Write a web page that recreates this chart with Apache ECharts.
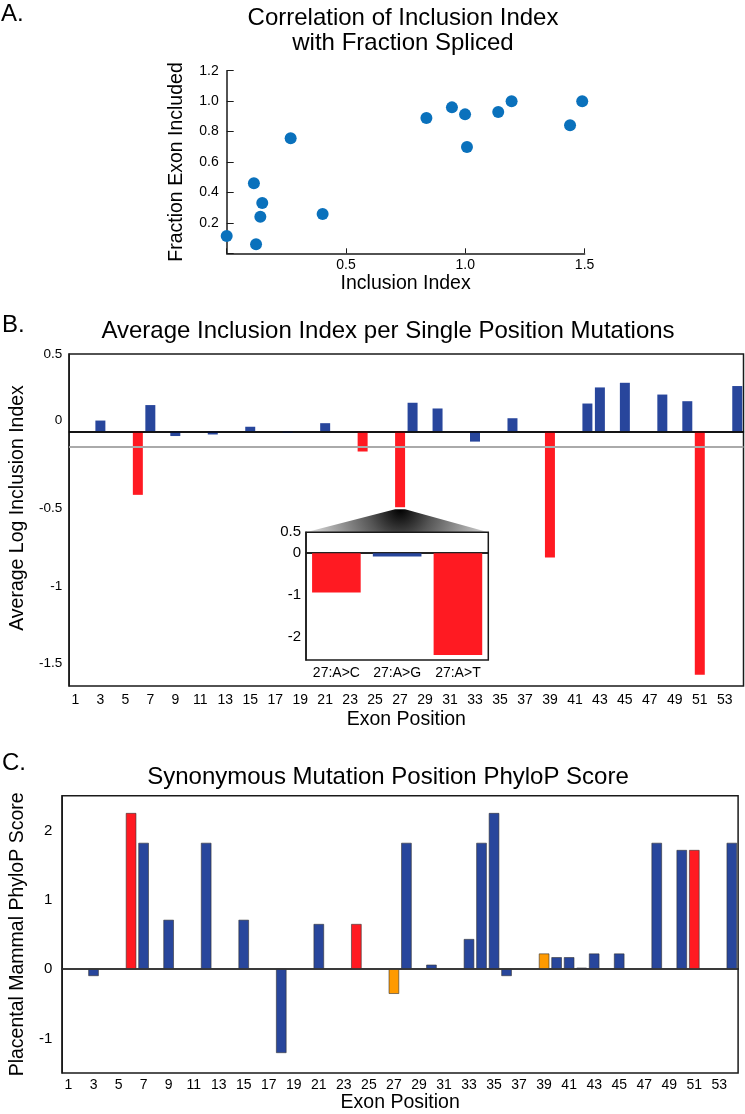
<!DOCTYPE html>
<html><head><meta charset="utf-8">
<script src="https://cdn.jsdelivr.net/npm/echarts@6/dist/echarts.min.js"></script>
<style>html,body{margin:0;padding:0;background:#fff}#c{width:745px;height:1114px}</style>
</head><body><div id="c"></div>
<script>
// ---------- Panel A data ----------
const scatterX = [0.00, 0.123, 0.114, 0.149, 0.141, 0.268, 0.402, 0.837, 0.944, 0.999, 1.007, 1.138, 1.194, 1.439, 1.490];
const scatterY = [0.114, 0.059, 0.460, 0.330, 0.240, 0.756, 0.258, 0.889, 0.959, 0.913, 0.698, 0.928, 1.000, 0.841, 1.000];

// ---------- Shared categories ----------
const exonPositions = ['1','2','3','4','5','6','7','8','9','10','11','12','13','14','15','16','17','18','19','20',
  '21','22','23','24','25','26','27','28','29','30','31','32','33','34','35','36','37','38','39','40',
  '41','42','43','44','45','46','47','48','49','50','51','52','53','54'];

// ---------- Panel B data ----------
const avgPos = [3, 6, 7, 9, 12, 15, 18, 21, 24, 27, 28, 30, 33, 36, 39, 42, 43, 45, 48, 50, 51, 54];
const avgVal = [0.07, -0.41, 0.17, -0.03, -0.02, 0.03, -0.01, 0.053, -0.13, -0.49, 0.185, 0.148, -0.066, 0.085, -0.815, 0.18, 0.284, 0.314, 0.238, 0.195, -1.573, 0.293];
const avgRed = [6, 24, 27, 39, 51];
const avgThreshold = -0.1;
const avgYTicks = [0.5, 0, -0.5, -1, -1.5];

// ---------- Inset data ----------
const insetLabels = ['27:A>C', '27:A>G', '27:A>T'];
const insetVal = [-0.94, -0.08, -2.43];
const insetRed = ['27:A>C', '27:A>T'];
const insetYTicks = [0.5, 0, -0.5, -1, -1.5, -2];
const insetYLabels = [0.5, 0, -1, -2];

// ---------- Panel C data ----------
const phyloPos = [3, 6, 7, 9, 12, 15, 18, 21, 24, 27, 28, 30, 33, 34, 35, 36, 39, 40, 41, 42, 43, 45, 48, 50, 51, 54];
const phyloVal = [-0.1, 2.25, 1.82, 0.71, 1.82, 0.71, -1.21, 0.65, 0.65, -0.357, 1.82, 0.063, 0.433, 1.82, 2.25, -0.1, 0.224, 0.171, 0.171, 0.02, 0.224, 0.224, 1.82, 1.717, 1.717, 1.82];
const phyloRed = [6, 24, 51];
const phyloOrange = [27, 39];

// ---------- styles ----------
const FONT = "'Liberation Sans', Arial, Helvetica, sans-serif";
const BLUE = '#28469c', RED = '#ff1a22', ORANGE = '#ff9a00', DOT = '#0a71bc', INK = '#1a1a1a';
const GA = {left: 226.7, top: 70.7, width: 357.9, height: 182.6};
const GB = {left: 50.5, top: 354, width: 693, height: 332};
const GI = {left: 306, top: 532.3, width: 182.3, height: 127.7};
const GC = {left: 44.1, top: 795.7, width: 694, height: 280};

function barData(pos, val, colorFor) {
  return exonPositions.map(p => {
    const i = pos.indexOf(Number(p));
    if (i < 0) return '-';
    return {value: val[i], itemStyle: {color: colorFor(Number(p))}};
  });
}
const bData = barData(avgPos, avgVal, p => avgRed.includes(p) ? RED : BLUE);
const cData = barData(phyloPos, phyloVal, p => phyloRed.includes(p) ? RED : (phyloOrange.includes(p) ? ORANGE : BLUE));
const iData = insetLabels.map((l, i) => ({value: insetVal[i], itemStyle: {color: insetRed.includes(l) ? RED : BLUE}}));

const axLine = {show: true, lineStyle: {color: INK, width: 1.5}};
const lbl = (o) => Object.assign({color: '#000', fontFamily: FONT, fontSize: 14}, o);
const nameStyle = {color: '#000', fontFamily: FONT, fontSize: 19.5};

const chart = echarts.init(document.getElementById('c'), null, {renderer: 'canvas'});
const option = {
  animation: false,
  backgroundColor: '#fff',
  grid: [
    Object.assign({show: false}, GA),
    Object.assign({show: true, borderColor: INK, borderWidth: 1.5, backgroundColor: 'transparent'}, GB),
    Object.assign({show: true, borderColor: INK, borderWidth: 1.5, backgroundColor: '#fff', z: 5}, GI),
    Object.assign({show: true, borderColor: INK, borderWidth: 1.5, backgroundColor: 'transparent'}, GC)
  ],
  xAxis: [
    {type: 'value', gridIndex: 0, min: 0, max: 1.5, interval: 0.5,
      axisLine: axLine, axisTick: {inside: true, length: 5, lineStyle: {color: INK}},
      splitLine: {show: false},
      axisLabel: lbl({margin: 5, formatter: v => v === 0 ? '' : v.toFixed(1)}),
      name: 'Inclusion Index', nameLocation: 'middle', nameGap: 20, nameTextStyle: nameStyle},
    {type: 'category', gridIndex: 1, data: exonPositions,
      axisLine: axLine, axisTick: {inside: true, length: 6, interval: 0, lineStyle: {color: INK}},
      axisLabel: lbl({interval: 1, margin: 7}),
      name: 'Exon Position', nameLocation: 'middle', nameGap: 24, nameTextStyle: nameStyle},
    {type: 'category', gridIndex: 2, data: insetLabels,
      axisLine: axLine, axisTick: {inside: true, length: 5, interval: 0, lineStyle: {color: INK}},
      axisLabel: lbl({interval: 0, margin: 6}), z: 6},
    {type: 'category', gridIndex: 3, data: exonPositions,
      axisLine: axLine, axisTick: {inside: true, length: 6, interval: 0, lineStyle: {color: INK}},
      axisLabel: lbl({interval: 1, margin: 5}),
      name: 'Exon Position', nameLocation: 'middle', nameGap: 17, nameTextStyle: nameStyle}
  ],
  yAxis: [
    {type: 'value', gridIndex: 0, min: 0, max: 1.2, interval: 0.2,
      axisLine: axLine, axisTick: {inside: true, length: 7, lineStyle: {color: INK}},
      splitLine: {show: false},
      axisLabel: lbl({margin: 8, formatter: v => v === 0 ? '' : v.toFixed(1)}),
      name: 'Fraction Exon Included', nameLocation: 'middle', nameGap: 40, nameTextStyle: nameStyle},
    {type: 'value', gridIndex: 1, min: -1.645, max: 0.5,
      axisLine: axLine, axisTick: {inside: true, length: 5, customValues: avgYTicks, lineStyle: {color: INK}},
      splitLine: {show: false},
      axisLabel: lbl({margin: 7, fontSize: 13.5, customValues: avgYTicks,
        formatter: v => v === 0 ? '{up|0}' : String(v),
        rich: {up: {padding: [0, 0, 22, 0], fontSize: 13.5, fontFamily: FONT, color: '#000'}}}),
      name: 'Average Log Inclusion Index', nameLocation: 'middle', nameGap: 32,
      nameTextStyle: Object.assign({padding: [0, 0, 0, 24]}, nameStyle)},
    {type: 'value', gridIndex: 2, min: -2.55, max: 0.5,
      axisLine: axLine, axisTick: {inside: true, length: 5, customValues: insetYTicks, lineStyle: {color: INK}},
      splitLine: {show: false},
      axisLabel: lbl({margin: 5, fontSize: 15, customValues: insetYLabels}), z: 6},
    {type: 'value', gridIndex: 3, min: -1.5, max: 2.5, interval: 0.5,
      axisLine: axLine, axisTick: {inside: true, length: 6, lineStyle: {color: INK}},
      splitLine: {show: false},
      axisLabel: lbl({margin: 10, fontSize: 15, formatter: v => Number.isInteger(v) ? String(v) : ''}),
      name: 'Placental Mammal PhyloP Score', nameLocation: 'middle', nameGap: 25, nameTextStyle: nameStyle}
  ],
  series: [
    {type: 'scatter', xAxisIndex: 0, yAxisIndex: 0, symbolSize: 12,
      itemStyle: {color: DOT, opacity: 1}, data: scatterX.map((x, i) => [x, scatterY[i]])},
    {type: 'bar', xAxisIndex: 1, yAxisIndex: 1, barWidth: '80%', data: bData,
      markLine: {silent: true, symbol: ['none', 'none'], label: {show: false},
        data: [{yAxis: 0, lineStyle: {color: '#000', width: 1.5, type: 'solid'}},
               {yAxis: avgThreshold, lineStyle: {color: '#aaaaaa', width: 2, type: 'solid'}}]}},
    {type: 'bar', xAxisIndex: 2, yAxisIndex: 2, barWidth: '80%', data: iData, z: 6,
      markLine: {silent: true, symbol: ['none', 'none'], label: {show: false},
        data: [{yAxis: 0, lineStyle: {color: '#000', width: 1.5, type: 'solid'}}]}},
    {type: 'bar', xAxisIndex: 3, yAxisIndex: 3, barWidth: '83%', data: cData,
      itemStyle: {borderColor: '#333', borderWidth: 0.6},
      markLine: {silent: true, symbol: ['none', 'none'], label: {show: false},
        data: [{yAxis: 0, lineStyle: {color: '#333', width: 1.5, type: 'solid'}}]}}
  ],
  graphic: [
    {id: 'tA', type: 'text', x: 403, y: 30.5, style: {text: 'Correlation of Inclusion Index\nwith Fraction Spliced', font: '24px ' + FONT, lineHeight: 25, align: 'center', verticalAlign: 'middle', fill: '#000'}},
    {id: 'tB', type: 'text', x: 388, y: 331.7, style: {text: 'Average Inclusion Index per Single Position Mutations', font: '24px ' + FONT, align: 'center', verticalAlign: 'middle', fill: '#000'}},
    {id: 'tC', type: 'text', x: 388, y: 777, style: {text: 'Synonymous Mutation Position PhyloP Score', font: '24px ' + FONT, align: 'center', verticalAlign: 'middle', fill: '#000'}},
    {id: 'pA', type: 'text', x: 1, y: 14, style: {text: 'A.', font: "24px 'Liberation Sans Narrow', " + FONT, align: 'left', verticalAlign: 'middle', fill: '#000'}},
    {id: 'pB', type: 'text', x: 2, y: 325, style: {text: 'B.', font: "24px 'Liberation Sans Narrow', " + FONT, align: 'left', verticalAlign: 'middle', fill: '#000'}},
    {id: 'pC', type: 'text', x: 2, y: 763, style: {text: 'C.', font: "24px 'Liberation Sans Narrow', " + FONT, align: 'left', verticalAlign: 'middle', fill: '#000'}}
  ]
};
chart.setOption(option);

// zoom wedge from the bar at position 27 down to the inset
const i27 = exonPositions.indexOf('27');
const v27 = avgVal[avgPos.indexOf(27)];
const p0 = chart.convertToPixel({xAxisIndex: 1, yAxisIndex: 1}, [i27, v27]);
const p1 = chart.convertToPixel({xAxisIndex: 1, yAxisIndex: 1}, [i27 + 1, v27]);
const hw = (p1[0] - p0[0]) * 0.4;
const ay = p0[1] + 2;
chart.setOption({graphic: [{
  id: 'wedge', type: 'polygon', z: 3,
  shape: {points: [[GI.left, GI.top], [p0[0] - hw, ay], [p0[0] + hw, ay], [GI.left + GI.width, GI.top]]},
  style: {fill: {type: 'radial', x: p0[0], y: ay, r: 105, global: true,
    colorStops: [{offset: 0, color: '#000'}, {offset: 0.3, color: '#555'}, {offset: 1, color: '#f4f4f4'}]}}
}]});
</script></body></html>
